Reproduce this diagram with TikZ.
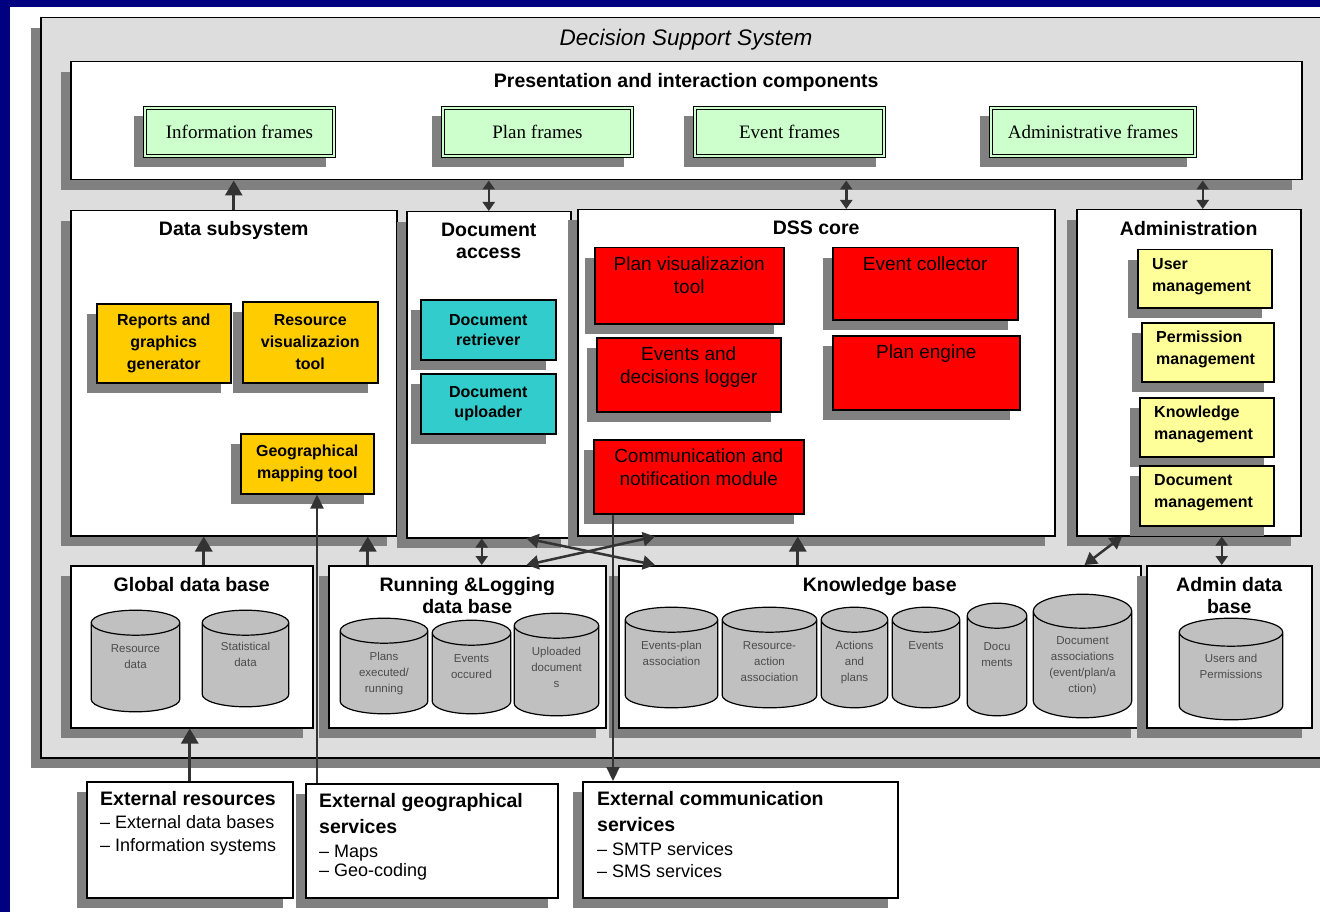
\documentclass[tikz,border=0pt]{standalone}
\usepackage{fontspec}
\setmainfont{Liberation Sans}
\newfontfamily\framefont{Liberation Serif}
\usetikzlibrary{positioning, shadows, arrows.meta, calc}
\definecolor{navy}{RGB}{0,0,128}
\definecolor{dssgrey}{RGB}{221,221,221}
\definecolor{shadegrey}{RGB}{128,128,128}
\definecolor{framegreen}{RGB}{204,255,204}
\definecolor{toolgold}{RGB}{255,204,0}
\definecolor{docteal}{RGB}{51,204,204}
\definecolor{corered}{RGB}{255,0,0}
\definecolor{adminyellow}{RGB}{255,255,153}
\definecolor{dbgrey}{RGB}{192,192,192}
\definecolor{arrowgrey}{RGB}{51,51,51}
% drum outline drawn inside a data base node, #1 = radius of the caps
\newcommand{\dbdrum}[1]{%
	\filldraw[dbline] let \p1=([xshift=0.7pt, yshift=-0.7pt]path picture bounding box.north west), \p2=([xshift=-0.7pt, yshift=0.7pt]path picture bounding box.south east), \n1={(\x2-\x1)/2} in
		(\x1,\y1-#1) -- (\x1,\y2+#1) arc[start angle=180, end angle=360, x radius=\n1, y radius=#1]
		-- (\x2,\y1-#1) arc[start angle=0, end angle=180, x radius=\n1, y radius=#1] -- cycle
		(\x1,\y1-#1) arc[start angle=180, end angle=360, x radius=\n1, y radius=#1];
}
\tikzset{
	boxshadow/.style={drop shadow={shadow xshift=-10pt, shadow yshift=-10pt, fill=shadegrey, opacity=1}},
	panel/.style={rectangle, draw=black, line width=1.5pt, fill=white, boxshadow, anchor=north west, inner sep=0pt},
	framebox/.style={panel, line width=1pt, fill=framegreen, font=\framefont\fontsize{19}{22}\selectfont,
		path picture={\draw[black, line width=1pt] ([xshift=3.2pt, yshift=-3.2pt]path picture bounding box.north west) rectangle ([xshift=-3.2pt, yshift=3.2pt]path picture bounding box.south east);}},
	toolbox/.style={panel, fill=toolgold, align=center, font=\bfseries\fontsize{16}{22}\selectfont},
	docbox/.style={toolbox, fill=docteal, font=\bfseries\fontsize{16}{20}\selectfont},
	corebox/.style={panel, fill=corered},
	adminbox/.style={panel, fill=adminyellow},
	headtext/.style={anchor=north, inner sep=0pt, align=center, font=\bfseries\fontsize{19.5}{22}\selectfont},
	coretext/.style={anchor=north, inner sep=0pt, yshift=-10pt, align=center, font=\fontsize{19}{23}\selectfont},
	admintext/.style={anchor=north west, inner sep=0pt, xshift=15pt, yshift=-9pt, align=left, font=\bfseries\fontsize{16}{22}\selectfont},
	dbline/.style={draw=black, line width=1.2pt, fill=dbgrey},
	dbstore/.style={rectangle, inner sep=0pt, path picture={\dbdrum{#1}}},
	dbstore/.default=12.5pt,
	dbtext/.style={anchor=north, inner sep=0pt, yshift=-35pt, align=center, text=black!70, font=\fontsize{11.5}{16}\selectfont},
	exttext/.style={anchor=north west, inner sep=0pt, align=left, font=\fontsize{18}{23}\selectfont},
	uparrow/.style={draw=arrowgrey, line width=3pt, -{Triangle[length=15pt, width=17pt]}},
	bothways/.style={draw=arrowgrey, line width=2.5pt, {Triangle[length=9pt, width=12pt]}-{Triangle[length=9pt, width=12pt]}},
	crossarrow/.style={draw=arrowgrey, line width=2.5pt, {Triangle[length=12pt, width=14pt]}-{Triangle[length=12pt, width=14pt]}},
	feedline/.style={draw=arrowgrey, line width=2.2pt, -{Triangle[length=14pt, width=13pt]}},
}
\begin{document}
\begin{tikzpicture}[x=1pt, y=-1pt]
	\useasboundingbox (0,0) rectangle (1320,912);
	\clip (0,0) rectangle (1320,912);
	\fill[navy] (0,0) rectangle (1320,912);
	\fill[white] (10,7) rectangle (1320,912);

	% outer system and presentation layer
	\node[panel, fill=dssgrey, minimum width=1300pt, minimum height=740pt] (dss) at (40,17) {};
	\node[anchor=north, inner sep=0pt, font=\itshape\fontsize{22.5}{26}\selectfont] (dsshead) at (686,29) {Decision Support System};
	\node[panel, minimum width=1231pt, minimum height=118pt] (pres) at (70,61) {};
	\node[headtext, below=12pt of pres.north] (preshead) {Presentation and interaction components};
	\node[framebox, minimum width=192pt, minimum height=51pt] (infoframe) at (143,106) {Information frames};
	\node[framebox, minimum width=192pt, minimum height=51pt] (planframe) at (441,106) {Plan frames};
	\node[framebox, minimum width=192pt, minimum height=51pt] (eventframe) at (693,106) {Event frames};
	\node[framebox, minimum width=207pt, minimum height=51pt] (adminframe) at (989,106) {Administrative frames};

	% middle row
	\node[panel, minimum width=326pt, minimum height=325pt] (datasub) at (70,210) {};
	\node[headtext, below=11pt of datasub.north] (datasubhead) {Data subsystem};
	\node[panel, minimum width=164pt, minimum height=326pt] (docacc) at (406,211) {};
	\node[headtext, below=12pt of docacc.north] (docacchead) {Document\\access};
	\node[panel, minimum width=477pt, minimum height=326pt] (dsscore) at (577,209) {};
	\node[headtext, below=12pt of dsscore.north] (dsscorehead) {DSS core};
	\node[panel, minimum width=224pt, minimum height=326pt] (admin) at (1076,209) {};
	\node[headtext, below=12pt of admin.north] (adminhead) {Administration};

	\node[toolbox, minimum width=134pt, minimum height=79pt] (reports) at (96,303) {Reports and\\graphics\\generator};
	\node[toolbox, minimum width=135pt, minimum height=81pt] (resvis) at (242,301) {Resource\\visualizazion\\tool};
	\node[toolbox, minimum width=133pt, minimum height=60pt] (geomap) at (240,433) {Geographical\\mapping tool};
	\node[docbox, minimum width=135pt, minimum height=60pt] (docret) at (420,299) {Document\\retriever};
	\node[docbox, minimum width=135pt, minimum height=60pt] (docup) at (420,373) {Document\\uploader};

	\node[corebox, minimum width=189pt, minimum height=76pt, label={[coretext]north:Plan visualizazion\\tool}] (planvis) at (594,247) {};
	\node[corebox, minimum width=185pt, minimum height=72pt, label={[coretext]north:Event collector}] (evcoll) at (832,247) {};
	\node[corebox, minimum width=184pt, minimum height=74pt, label={[coretext]north:Events and\\decisions logger}] (evlog) at (596,337) {};
	\node[corebox, minimum width=187pt, minimum height=74pt, label={[coretext]north:Plan engine}] (planeng) at (832,335) {};
	\node[corebox, minimum width=210pt, minimum height=74pt, label={[coretext]north:Communication and\\notification module}] (comm) at (593,439) {};

	\node[adminbox, minimum width=134pt, minimum height=58pt, label={[admintext]north west:User\\management}] (userm) at (1137,249) {};
	\node[adminbox, minimum width=132pt, minimum height=59pt, label={[admintext]north west:Permission\\management}] (permm) at (1141,322) {};
	\node[adminbox, minimum width=134pt, minimum height=59pt, label={[admintext]north west:Knowledge\\management}] (knowm) at (1139,397) {};
	\node[adminbox, minimum width=134pt, minimum height=60pt, label={[admintext]north west:Document\\management}] (docm) at (1139,465) {};

	% data bases
	\node[panel, minimum width=242pt, minimum height=162pt] (globaldb) at (70,565) {};
	\node[headtext, below=12pt of globaldb.north] (globaldbhead) {Global data base};
	\node[panel, minimum width=277pt, minimum height=162pt] (rundb) at (328,565) {};
	\node[headtext, below=12pt of rundb.north] (rundbhead) {Running \&Logging\\data base};
	\node[panel, minimum width=522pt, minimum height=162pt] (kb) at (618,565) {};
	\node[headtext, below=12pt of kb.north] (kbhead) {Knowledge base};
	\node[panel, minimum width=165pt, minimum height=162pt] (admindb) at (1146,565) {};
	\node[headtext, below=12pt of admindb.north] (admindbhead) {Admin data\\base};

	\node[dbstore, minimum width=90pt, minimum height=103pt, label={[dbtext]north:Resource\\data}] (resdata) at (135.5,661) {};
	\node[dbstore, minimum width=88pt, minimum height=98pt, label={[dbtext, yshift=2pt]north:Statistical\\data}] (statdata) at (245.5,658.5) {};
	\node[dbstore, minimum width=89pt, minimum height=97pt, label={[dbtext]north:Plans\\executed/\\running}] (plansdb) at (384,666) {};
	\node[dbstore, minimum width=80pt, minimum height=95pt, label={[dbtext]north:Events\\occured}] (eventsdb) at (471.5,667) {};
	\node[dbstore, minimum width=86pt, minimum height=104pt, label={[dbtext]north:Uploaded\\document\\s}] (uploaddb) at (556.5,664.5) {};
	\node[dbstore, minimum width=94pt, minimum height=102pt, label={[dbtext]north:Events-plan\\association}] (evplan) at (671.5,657.5) {};
	\node[dbstore, minimum width=96pt, minimum height=102pt, label={[dbtext]north:Resource-\\action\\association}] (resact) at (769.5,657.5) {};
	\node[dbstore, minimum width=68pt, minimum height=102pt, label={[dbtext]north:Actions\\and\\plans}] (actplans) at (854.5,657.5) {};
	\node[dbstore, minimum width=69pt, minimum height=102pt, label={[dbtext]north:Events}] (eventskb) at (926,657.5) {};
	\node[dbstore, minimum width=61pt, minimum height=114pt, label={[dbtext, yshift=-5pt]north:Docu\\ments}] (docskb) at (997,659.5) {};
	\node[dbstore=17pt, minimum width=100pt, minimum height=125pt, label={[dbtext, yshift=-8pt]north:Document\\associations\\(event/plan/a\\ction)}] (docassoc) at (1082.5,656) {};
	\node[dbstore=14pt, minimum width=105pt, minimum height=103pt, label={[dbtext, yshift=-2pt]north:Users and\\Permissions}] (userperm) at (1231,669) {};

	% external services
	\node[panel, minimum width=206pt, minimum height=116pt] (extres) at (86,781) {};
	\node[exttext] (extrestext) at (100,791) {{\bfseries\fontsize{19.5}{23}\selectfont External resources}\\\textendash\ External data bases\\\textendash\ Information systems};
	\node[panel, minimum width=252pt, minimum height=114pt] (extgeo) at (305,783) {};
	\node[exttext] (extgeotext) at (319,793) {{\bfseries\fontsize{19.5}{23}\selectfont External geographical}\\[3pt]{\bfseries\fontsize{19.5}{23}\selectfont services}\\[1.5pt]\textendash\ Maps\\[-4pt]\textendash\ Geo-coding};
	\node[panel, minimum width=315pt, minimum height=116pt] (extcomm) at (582,781) {};
	\node[exttext] (extcommtext) at (597,791) {{\bfseries\fontsize{19.5}{23}\selectfont External communication}\\[3pt]{\bfseries\fontsize{19.5}{23}\selectfont services}\\[1pt]\textendash\ SMTP services\\[-1pt]\textendash\ SMS services};

	% connectors
	\draw[uparrow] (datasub.north) -- (datasub.north |- pres.south);
	\draw[bothways] (docacc.north) -- (docacc.north |- pres.south);
	\draw[bothways] ([xshift=30pt]dsscore.north) -- ([xshift=30pt]dsscore.north |- pres.south);
	\draw[bothways] ([xshift=14pt]admin.north) -- ([xshift=14pt]admin.north |- pres.south);
	\draw[uparrow] ([xshift=12pt]globaldb.north) -- ([xshift=12pt]globaldb.north |- datasub.south);
	\draw[uparrow] ([xshift=-99.5pt]rundb.north) -- ([xshift=-99.5pt]rundb.north |- datasub.south);
	\draw[bothways] ([xshift=14.5pt]rundb.north) -- ([xshift=14.5pt]rundb.north |- docacc.south);
	\draw[crossarrow] ([xshift=-45pt]docacc.south east) -- ([xshift=37pt]kb.north west);
	\draw[crossarrow] ([xshift=-80pt]rundb.north east) -- ([xshift=78pt]dsscore.south west);
	\draw[uparrow] ([xshift=-82pt]kb.north) -- ([xshift=-82pt]kb.north |- dsscore.south);
	\draw[crossarrow] ([xshift=-57pt]kb.north east) -- ([xshift=46pt]admin.south west);
	\draw[bothways] ([xshift=-7.5pt]admindb.north) -- ([xshift=-7.5pt]admindb.north |- admin.south);
	\draw[uparrow] (extres.north) -- (extres.north |- globaldb.south);
	\draw[feedline] ([xshift=12pt]extgeo.north west) -- ([xshift=12pt]extgeo.north west |- geomap.south);
	\draw[feedline] ([xshift=20pt]comm.south west) -- ([xshift=20pt]comm.south west |- extcomm.north);
\end{tikzpicture}
\end{document}
